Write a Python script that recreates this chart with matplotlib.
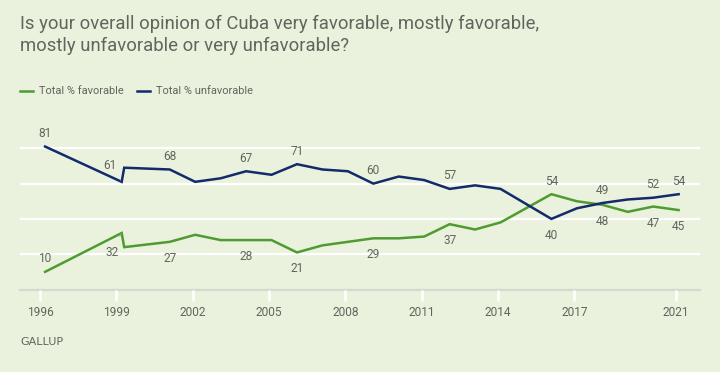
import matplotlib
matplotlib.use("Agg")
import matplotlib.pyplot as plt

# ---- data ----
years = [1996.2, 1999.21, 1999.31, 2001.1, 2002.1, 2003.1, 2004.1, 2005.1, 2006.1,
         2007.1, 2008.1, 2009.1, 2010.1, 2011.1, 2012.1, 2013.1, 2014.1, 2016.1,
         2017.1, 2018.1, 2019.1, 2020.1, 2021.1]
favorable = [10, 32, 24, 27, 31, 28, 28, 28, 21, 25, 27, 29, 29, 30, 37, 34, 38, 54,
             50, 48, 44, 47, 45]
unfavorable = [81, 61, 69, 68, 61, 63, 67, 65, 71, 68, 67, 60, 64, 62, 57, 59, 57, 40,
               46, 49, 51, 52, 54]
xticks = [1996, 1999, 2002, 2005, 2008, 2011, 2014, 2017, 2021]
series_names = ["Total % favorable", "Total % unfavorable"]
title = ("Is your overall opinion of Cuba very favorable, mostly favorable,\n"
         "mostly unfavorable or very unfavorable?")

# indices of labelled points, and side (1 = above, -1 = below)
fav_labels = {0: 1, 1: -1, 3: -1, 6: -1, 8: -1, 11: -1, 14: -1, 17: 1, 19: -1, 21: -1, 22: -1}
unf_labels = {0: 1, 1: 1, 3: 1, 6: 1, 8: 1, 11: 1, 14: 1, 17: -1, 19: 1, 21: 1, 22: 1}

BG = "#eaf2dd"
GREEN = "#4f9b32"
NAVY = "#132a6b"
TXT = "#5f665d"

plt.rcParams['font.family'] = ['Roboto', 'DejaVu Sans']

W, H = 720, 372
fig = plt.figure(figsize=(W / 100, H / 100), dpi=100, facecolor=BG)
ax = fig.add_axes([20 / W, (H - 289.5) / H, 680 / W, (289.5 - 113) / H])
ax.set_facecolor(BG)
ax.set_xlim(1995.214, 2021.94)
ax.set_ylim(0, 100)

for g in [20, 40, 60, 80]:
    ax.axhline(g, color="white", lw=1.6, zorder=1)
ax.axhline(0, color="#d4d9cf", lw=1.6, zorder=1, clip_on=False)

ax.plot(years, favorable, color=GREEN, lw=1.8, zorder=3, solid_joinstyle="miter")
ax.plot(years, unfavorable, color=NAVY, lw=1.8, zorder=3, solid_joinstyle="miter")

for s in ax.spines.values():
    s.set_visible(False)
ax.set_yticks([])
ax.set_xticks(xticks)
ax.set_xticklabels([str(t) for t in xticks])
ax.tick_params(axis="x", colors="white", length=8, width=1.8, pad=4,
               labelcolor=TXT, labelsize=8.6)

LBL = 8.6

def put_labels(vals, labs):
    for i, side in labs.items():
        if i == 1:
            # leader-line labels at 1999
            dx = -12 if side == 1 else -10
            dy = 16 if side == 1 else -19
            ax.annotate(str(vals[i]), (years[i], vals[i]), xytext=(dx, dy),
                        textcoords="offset pixels", ha="center", va="center",
                        fontsize=LBL, color=TXT, zorder=4,
                        arrowprops=dict(arrowstyle="-", color="#aab0a6", lw=0.6,
                                        shrinkA=5, shrinkB=1))
        else:
            dy = 13 if side == 1 else -16.5
            ax.annotate(str(vals[i]), (years[i], vals[i]), xytext=(0, dy),
                        textcoords="offset pixels", ha="center", va="center",
                        fontsize=LBL, color=TXT, zorder=4)

put_labels(favorable, fav_labels)
put_labels(unfavorable, unf_labels)

# title
fig.text(20 / W, 1 - 15 / H, title, ha="left", va="top", fontsize=13.3,
         color=TXT, linespacing=1.27)

# legend
ly = 1 - 91 / H
fig.add_artist(plt.Line2D([20 / W, 33 / W], [ly, ly], color=GREEN, lw=1.8))
fig.text(39 / W, ly, series_names[0], ha="left", va="center", fontsize=7.9, color=TXT)
fig.add_artist(plt.Line2D([137 / W, 150 / W], [ly, ly], color=NAVY, lw=1.8))
fig.text(156 / W, ly, series_names[1], ha="left", va="center", fontsize=7.9, color=TXT)

# footer
fig.text(20 / W, 1 - 342 / H, "GALLUP", ha="left", va="center", fontsize=8,
         color=TXT, family=["DejaVu Sans"])

fig.savefig("out.png", dpi=100, facecolor=BG)
